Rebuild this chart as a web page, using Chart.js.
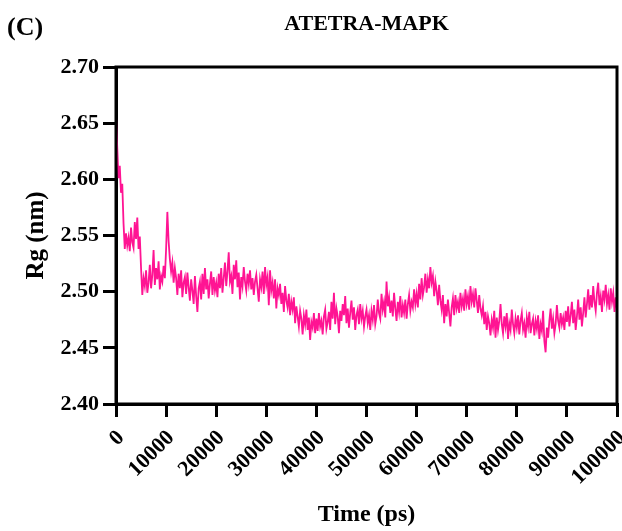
<!DOCTYPE html>
<html>
<head>
<meta charset="utf-8">
<script src="https://cdn.jsdelivr.net/npm/chart.js@4"></script>
<style>
  html, body { margin: 0; padding: 0; background: #fff; }
</style>
</head>
<body>
<canvas id="rgChart" width="622" height="531"></canvas>
<script>
const timeStep = 250;
const rgValues = [
  2.657, 2.628, 2.601, 2.612, 2.588, 2.596, 2.561, 2.538, 2.552, 2.541, 2.548, 2.536, 2.557, 2.544, 2.539, 2.562, 2.547, 2.566, 2.538, 2.549,
  2.521, 2.497, 2.512, 2.505, 2.519, 2.499, 2.508, 2.524, 2.503, 2.515, 2.537, 2.506, 2.521, 2.511, 2.527, 2.502, 2.514, 2.509, 2.523, 2.512,
  2.538, 2.571, 2.545, 2.529, 2.518, 2.526, 2.508, 2.521, 2.512, 2.497, 2.516, 2.503, 2.519, 2.495, 2.508, 2.513, 2.498, 2.517, 2.504, 2.492,
  2.511, 2.501, 2.489, 2.514, 2.496, 2.482, 2.503, 2.509, 2.493, 2.516, 2.498, 2.521, 2.502, 2.511, 2.494, 2.507, 2.518, 2.497, 2.513, 2.501,
  2.508, 2.495, 2.516, 2.503, 2.521, 2.499, 2.512, 2.526, 2.505, 2.518, 2.535, 2.509, 2.514, 2.498, 2.524, 2.511, 2.528, 2.504, 2.517, 2.493,
  2.513, 2.505, 2.522, 2.509, 2.501, 2.516, 2.507, 2.519, 2.502, 2.512, 2.497, 2.509, 2.515, 2.503, 2.491, 2.511, 2.504, 2.518, 2.498, 2.522,
  2.506, 2.513, 2.488, 2.519, 2.501, 2.508, 2.494, 2.511, 2.485, 2.503, 2.497, 2.507, 2.489, 2.499, 2.482, 2.505, 2.492, 2.486, 2.498, 2.479,
  2.491, 2.484, 2.495, 2.472, 2.487, 2.478, 2.469, 2.483, 2.476, 2.462, 2.479, 2.471, 2.484, 2.466, 2.477, 2.457, 2.473, 2.468, 2.481, 2.463,
  2.476, 2.465, 2.481, 2.469, 2.474, 2.462, 2.478, 2.484, 2.467, 2.473, 2.482, 2.466, 2.491, 2.476, 2.499, 2.471, 2.485, 2.478, 2.463, 2.483,
  2.474, 2.489, 2.479, 2.496, 2.472, 2.485, 2.468, 2.481, 2.492, 2.475, 2.486, 2.466, 2.479, 2.484, 2.471, 2.489, 2.476, 2.483, 2.469, 2.478,
  2.484, 2.472, 2.479, 2.466, 2.483, 2.475, 2.488, 2.471, 2.478, 2.493, 2.481, 2.476, 2.498, 2.484, 2.491, 2.477, 2.509, 2.487, 2.495, 2.481,
  2.492, 2.478, 2.499, 2.485, 2.474, 2.491, 2.482, 2.496, 2.477, 2.488, 2.481, 2.493, 2.476, 2.489, 2.497, 2.483, 2.491, 2.486, 2.502, 2.489,
  2.498, 2.486, 2.507, 2.493, 2.512, 2.497, 2.504, 2.516, 2.499, 2.511, 2.503, 2.522, 2.508, 2.514, 2.496, 2.509, 2.501, 2.488, 2.506, 2.492,
  2.484, 2.497, 2.472, 2.489, 2.478, 2.493, 2.481, 2.469, 2.486, 2.494, 2.479, 2.497, 2.485, 2.491, 2.481, 2.499, 2.487, 2.494, 2.483, 2.502,
  2.489, 2.496, 2.484, 2.505, 2.491, 2.498, 2.486, 2.503, 2.492, 2.481, 2.497, 2.485, 2.479, 2.487, 2.471, 2.482, 2.466, 2.478, 2.472, 2.461,
  2.475, 2.468, 2.483, 2.459, 2.477, 2.466, 2.474, 2.489, 2.471, 2.463, 2.478, 2.469, 2.481, 2.458, 2.472, 2.466, 2.484, 2.471, 2.463, 2.476,
  2.468, 2.479, 2.462, 2.474, 2.481, 2.466, 2.472, 2.459, 2.477, 2.469, 2.482, 2.463, 2.471, 2.476, 2.461, 2.474, 2.467, 2.479, 2.458, 2.471,
  2.465, 2.483, 2.456, 2.446, 2.468, 2.459, 2.474, 2.485, 2.467, 2.476, 2.463, 2.471, 2.488, 2.474, 2.468, 2.481, 2.471, 2.477, 2.466, 2.483,
  2.473, 2.487, 2.469, 2.479, 2.491, 2.472, 2.484, 2.466, 2.478, 2.493, 2.475, 2.486, 2.469, 2.481, 2.495, 2.477, 2.489, 2.502, 2.484, 2.497,
  2.486, 2.505, 2.491, 2.483, 2.499, 2.508, 2.488, 2.496, 2.482, 2.501, 2.493, 2.506, 2.489, 2.497, 2.484, 2.503, 2.491, 2.499, 2.482, 2.495,
  2.484
];
const timeValues = rgValues.map((v, i) => i * timeStep);

const xTicks = [0, 10000, 20000, 30000, 40000, 50000, 60000, 70000, 80000, 90000, 100000];
const yTicks = [2.40, 2.45, 2.50, 2.55, 2.60, 2.65, 2.70];

const panelLabel = '(C)';
const chartTitle = 'ATETRA-MAPK';
const xTitle = 'Time (ps)';
const yTitle = 'Rg (nm)';

const serif = "'Liberation Serif', 'Times New Roman', serif";

// draws the panel letter, title and the closed frame
const framePlugin = {
  id: 'frame',
  afterDraw(chart) {
    const ctx = chart.ctx;
    const a = chart.chartArea;
    ctx.save();
    ctx.strokeStyle = '#000';
    ctx.lineWidth = 3;
    ctx.strokeRect(a.left, a.top, a.right - a.left, a.bottom - a.top);
    ctx.fillStyle = '#000';
    ctx.textBaseline = 'alphabetic';
    ctx.font = 'bold 26px ' + serif;
    ctx.textAlign = 'left';
    ctx.fillText(panelLabel, 7, 35);
    ctx.font = 'bold 22px ' + serif;
    ctx.textAlign = 'center';
    ctx.fillText(chartTitle, (a.left + a.right) / 2, 30);
    ctx.restore();
  }
};

new Chart(document.getElementById('rgChart'), {
  type: 'line',
  data: {
    datasets: [{
      label: 'Rg',
      data: timeValues.map((t, i) => ({ x: t, y: rgValues[i] })),
      borderColor: '#ff1493',
      borderWidth: 1.8,
      pointRadius: 0,
      tension: 0,
      fill: false
    }]
  },
  options: {
    responsive: false,
    animation: false,
    devicePixelRatio: 1,
    layout: { padding: { top: 67, right: 5, left: 0, bottom: 0 } },
    plugins: {
      legend: { display: false },
      tooltip: { enabled: false }
    },
    scales: {
      x: {
        type: 'linear',
        min: 0,
        max: 100000,
        afterBuildTicks(scale) { scale.ticks = xTicks.map(v => ({ value: v })); },
        afterFit(scale) {
          scale.height = 127;
          scale.paddingLeft = 0;
          scale.paddingRight = 0;
        },
        ticks: {
          autoSkip: false,
          minRotation: 45,
          maxRotation: 45,
          padding: 8,
          labelOffset: 5,
          color: '#000',
          font: { family: serif, size: 22, weight: 'bold' },
          callback: v => String(v)
        },
        grid: { drawOnChartArea: false, drawTicks: true, tickLength: 13, lineWidth: 3, color: '#000' },
        border: { display: true, width: 3, color: '#000' },
        title: {
          display: true,
          text: xTitle,
          color: '#000',
          font: { family: serif, size: 24, weight: 'bold' },
          padding: { top: 0, bottom: 2 }
        }
      },
      y: {
        min: 2.40,
        max: 2.70,
        afterBuildTicks(scale) { scale.ticks = yTicks.map(v => ({ value: v })); },
        afterFit(scale) { scale.width = 116; },
        ticks: {
          autoSkip: false,
          padding: 4,
          color: '#000',
          font: { family: serif, size: 22, weight: 'bold' },
          callback: v => v.toFixed(2)
        },
        grid: { drawOnChartArea: false, drawTicks: true, tickLength: 13, lineWidth: 3, color: '#000' },
        border: { display: true, width: 3, color: '#000' },
        title: {
          display: true,
          text: yTitle,
          color: '#000',
          font: { family: serif, size: 25, weight: 'bold' },
          padding: { top: 22, bottom: 0 }
        }
      }
    }
  },
  plugins: [framePlugin]
});
</script>
</body>
</html>
